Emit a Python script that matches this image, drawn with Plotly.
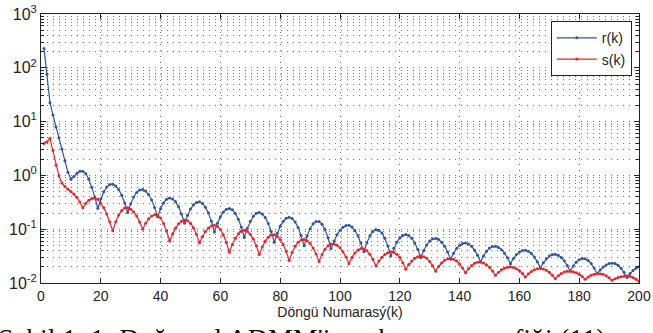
import plotly.graph_objects as go

k = list(range(1, 201))

r_k = [
    229, 76, 22.4, 13.2, 7.9, 5.0, 3.1, 1.86, 1.15, 0.85,
    0.95, 1.10, 1.20, 1.20, 1.07, 0.851, 0.603, 0.398, 0.245, 0.367,
    0.497, 0.611, 0.679, 0.687, 0.637, 0.543, 0.427, 0.308, 0.204, 0.297,
    0.396, 0.483, 0.537, 0.547, 0.513, 0.441, 0.348, 0.254, 0.170, 0.240,
    0.308, 0.359, 0.380, 0.366, 0.324, 0.260, 0.191, 0.129, 0.182, 0.237,
    0.284, 0.315, 0.323, 0.302, 0.257, 0.199, 0.140, 0.0891, 0.129, 0.171,
    0.209, 0.234, 0.243, 0.229, 0.196, 0.153, 0.109, 0.070, 0.104, 0.140,
    0.174, 0.197, 0.204, 0.192, 0.165, 0.128, 0.0902, 0.0575, 0.0843, 0.113,
    0.140, 0.159, 0.166, 0.158, 0.136, 0.107, 0.0760, 0.0490, 0.0745, 0.102,
    0.126, 0.139, 0.139, 0.124, 0.0982, 0.0693, 0.0437, 0.0604, 0.0785, 0.0955,
    0.109, 0.117, 0.118, 0.110, 0.0946, 0.0755, 0.0557, 0.0380, 0.0562, 0.0752,
    0.0904, 0.0982, 0.0961, 0.0849, 0.0678, 0.0488, 0.0316, 0.0441, 0.0570, 0.0686,
    0.0766, 0.0794, 0.0764, 0.0678, 0.0556, 0.0422, 0.0295, 0.0402, 0.0511, 0.0601,
    0.0661, 0.0675, 0.0644, 0.0575, 0.0481, 0.0377, 0.0275, 0.0358, 0.0438, 0.0504,
    0.0545, 0.0555, 0.0532, 0.0480, 0.0407, 0.0327, 0.0245, 0.0319, 0.0389, 0.0445,
    0.0476, 0.0480, 0.0458, 0.0416, 0.0359, 0.0294, 0.0229, 0.0285, 0.0337, 0.0378,
    0.0402, 0.0406, 0.0389, 0.0353, 0.0303, 0.0247, 0.0191, 0.0238, 0.0282, 0.0317,
    0.0337, 0.0341, 0.0327, 0.0299, 0.0258, 0.0212, 0.0166, 0.0207, 0.0244, 0.0271,
    0.0284, 0.0281, 0.0261, 0.0230, 0.0191, 0.0150, 0.0175, 0.0199, 0.0217, 0.0230,
    0.0234, 0.0230, 0.0214, 0.0188, 0.0158, 0.0126, 0.0150, 0.0171, 0.0189, 0.0200,
]

s_k = [
    3.9, 4.2, 4.9, 2.9, 1.55, 0.98, 0.72, 0.62, 0.55, 0.50,
    0.45, 0.39, 0.32, 0.25, 0.303, 0.347, 0.373, 0.380, 0.361, 0.302,
    0.251, 0.191, 0.138, 0.0933, 0.137, 0.183, 0.223, 0.247, 0.250, 0.236,
    0.209, 0.175, 0.136, 0.100, 0.129, 0.156, 0.176, 0.186, 0.182, 0.161,
    0.128, 0.0925, 0.0603, 0.0824, 0.105, 0.126, 0.141, 0.148, 0.144, 0.129,
    0.106, 0.0802, 0.0556, 0.0731, 0.0904, 0.105, 0.115, 0.119, 0.114, 0.0986,
    0.0782, 0.0565, 0.0372, 0.0522, 0.0679, 0.0820, 0.0920, 0.0955, 0.0916, 0.0809,
    0.0658, 0.0492, 0.0339, 0.0469, 0.0600, 0.0711, 0.0780, 0.0791, 0.0743, 0.0646,
    0.0518, 0.0384, 0.0263, 0.0370, 0.0480, 0.0574, 0.0632, 0.0643, 0.0610, 0.0541,
    0.0448, 0.0347, 0.0251, 0.0339, 0.0425, 0.0493, 0.0532, 0.0533, 0.0505, 0.0450,
    0.0380, 0.0303, 0.0229, 0.0299, 0.0363, 0.0412, 0.0436, 0.0430, 0.0396, 0.0342,
    0.0277, 0.0209, 0.0256, 0.0301, 0.0340, 0.0366, 0.0379, 0.0374, 0.0344, 0.0297,
    0.0239, 0.0180, 0.0220, 0.0257, 0.0287, 0.0308, 0.0316, 0.0309, 0.0287, 0.0252,
    0.0210, 0.0166, 0.0203, 0.0237, 0.0264, 0.0281, 0.0285, 0.0276, 0.0256, 0.0226,
    0.0191, 0.0155, 0.0185, 0.0212, 0.0232, 0.0244, 0.0245, 0.0236, 0.0219, 0.0196,
    0.0168, 0.0139, 0.0159, 0.0176, 0.0189, 0.0197, 0.0200, 0.0195, 0.0185, 0.0170,
    0.0150, 0.0129, 0.0148, 0.0164, 0.0176, 0.0184, 0.0186, 0.0182, 0.0173, 0.0158,
    0.0140, 0.0120, 0.0136, 0.0150, 0.0160, 0.0165, 0.0166, 0.0162, 0.0155, 0.0145,
    0.0132, 0.0117, 0.0129, 0.0139, 0.0146, 0.0149, 0.0149, 0.0145, 0.0136, 0.0125,
    0.0112, 0.0120, 0.0126, 0.0131, 0.0134, 0.0135, 0.0133, 0.0127, 0.0118, 0.0107,
]

series_names = ["r(k)", "s(k)"]
x_ticks = [0, 20, 40, 60, 80, 100, 120, 140, 160, 180, 200]
y_ticks = [0.01, 0.1, 1, 10, 100, 1000]
y_ticktext = ["10<sup>-2</sup>", "10<sup>-1</sup>", "10<sup>0</sup>",
              "10<sup>1</sup>", "10<sup>2</sup>", "10<sup>3</sup>"]
x_title = "Döngü Numarasý(k)"
caption = "Şekil 1. 1: Doğrusal ADMM'in yakınsama grafiği (11)"

BLUE = "#2f55a8"
RED = "#ee2229"
FONT = "Liberation Sans, Arial, sans-serif"

fig = go.Figure()
fig.add_trace(go.Scatter(
    x=k, y=r_k, name=series_names[0], mode="lines+markers",
    line=dict(color=BLUE, width=1.2), marker=dict(color=BLUE, size=3, symbol="circle"),
))
fig.add_trace(go.Scatter(
    x=k, y=s_k, name=series_names[1], mode="lines+markers",
    line=dict(color=RED, width=1.2), marker=dict(color=RED, size=3, symbol="circle"),
))

gridc = "#777777"
griddash = "1px,5px"
fig.update_layout(
    width=653, height=333,
    margin=dict(l=41, r=14, t=14, b=50),
    paper_bgcolor="white", plot_bgcolor="white",
    font=dict(family=FONT, size=14, color="#222"),
    showlegend=True,
    legend=dict(
        x=0.988, y=0.973, xanchor="right", yanchor="top",
        bgcolor="white", bordercolor="#222", borderwidth=1,
        font=dict(size=14, family=FONT), itemwidth=40,
        tracegroupgap=0,
    ),
    xaxis=dict(
        range=[0, 200], tickvals=x_ticks, ticktext=[str(t) for t in x_ticks],
        ticks="inside", ticklen=5, tickcolor="#222",
        showline=True, linecolor="#222", linewidth=1, mirror="ticks",
        showgrid=True, gridcolor=gridc, griddash=griddash, gridwidth=1,
        zeroline=False, tickfont=dict(size=14, family=FONT), automargin=False,
        title=dict(text=x_title, font=dict(size=14, family=FONT), standoff=3),
    ),
    yaxis=dict(
        type="log", range=[-2, 3], tickvals=y_ticks, ticktext=y_ticktext,
        ticks="inside", ticklen=5, tickcolor="#222",
        showline=True, linecolor="#222", linewidth=1, mirror="ticks",
        showgrid=True, gridcolor=gridc, griddash=griddash, gridwidth=1,
        zeroline=False, tickfont=dict(size=16, family=FONT), automargin=False,
        minor=dict(dtick="D1", ticks="inside", ticklen=3, tickcolor="#222",
                   showgrid=True, gridcolor=gridc, griddash=griddash, gridwidth=1),
    ),
)

fig.add_annotation(
    text=caption, xref="paper", yref="paper", x=-0.075, y=-0.14,
    xanchor="left", yanchor="top", showarrow=False,
    font=dict(family="Liberation Serif, Times New Roman, serif", size=28, color="#111"),
)

fig.write_html(
    "out.html",
    config={"displayModeBar": False},
    post_script="document.body.style.margin='0';document.body.style.overflow='hidden';",
)
